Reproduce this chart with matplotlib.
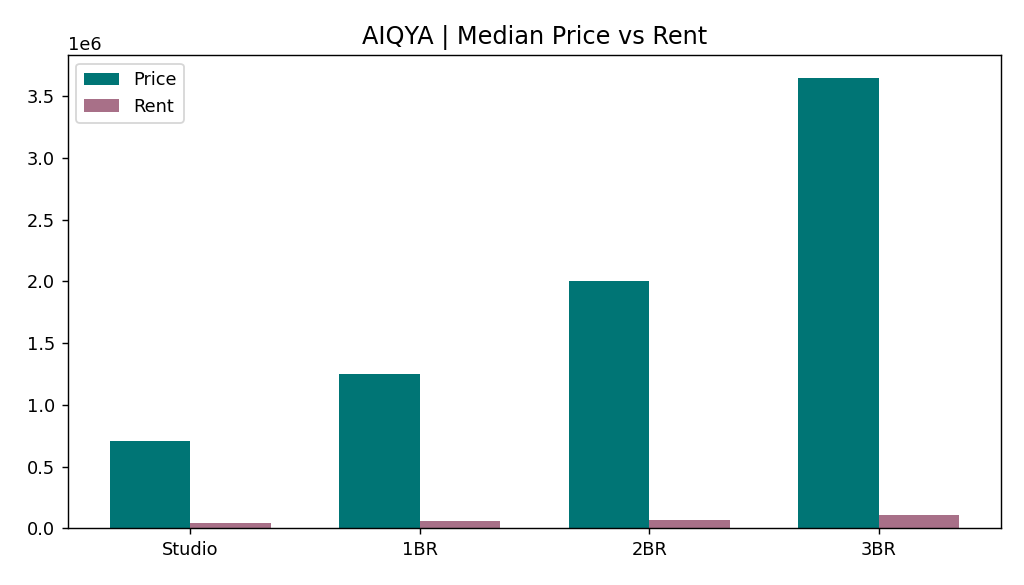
import matplotlib
matplotlib.use("Agg")
import matplotlib.pyplot as plt
import numpy as np

categories = ["Studio", "1BR", "2BR", "3BR"]
price = [710000, 1250000, 2000000, 3650000]
rent = [45000, 55000, 70000, 110000]

fig, ax = plt.subplots(figsize=(8, 585/128), dpi=128)
x = np.arange(len(categories))
w = 0.35
ax.bar(x - w/2, price, w, label="Price", color="#007575")
ax.bar(x + w/2, rent, w, label="Rent", color="#a87088")
ax.set_xticks(x)
ax.set_xticklabels(categories)
ax.set_title("AIQYA | Median Price vs Rent", fontsize=13.5)
ax.legend(loc="upper left")
fig.subplots_adjust(left=0.066, right=0.978, top=0.906, bottom=0.097)
fig.savefig("out.png")
